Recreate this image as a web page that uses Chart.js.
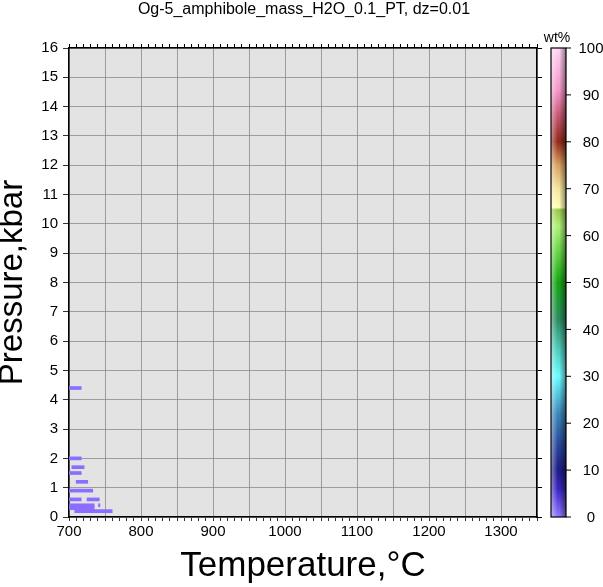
<!DOCTYPE html>
<html>
<head>
<meta charset="utf-8">
<script src="https://cdn.jsdelivr.net/npm/chart.js@4/dist/chart.umd.min.js"></script>
<style>
    html, body { margin: 0; padding: 0; background: #fff; }
    #wrap { width: 603px; height: 587px; }
</style>
</head>
<body>
<div id="wrap"><canvas id="ptChart" width="603" height="587"></canvas></div>
<script>
// Amphibole cells (pressure row, temperature span)
const pressures = [4.4, 2.0, 1.7, 1.5, 1.2, 0.9, 0.6, 0.6, 0.4, 0.4, 0.3, 0.2];
const tStart    = [700, 700, 704, 700, 710, 700, 700, 725, 700, 741, 700, 708];
const tEnd      = [717, 717, 721, 717, 726, 733, 717, 742, 735, 743, 735, 760];

const tempTicks = [700, 800, 900, 1000, 1100, 1200, 1300];
const colorbarTicks = [0, 10, 20, 30, 40, 50, 60, 70, 80, 90, 100];

const FONT = '"Liberation Sans", Arial, Helvetica, sans-serif';

// Colorbar palette (value 0..100)
const paletteStops = [
    [0.00, '#8f78ff'],
    [0.06, '#3a24c0'],
    [0.10, '#1c1c84'],
    [0.16, '#2a4c9c'],
    [0.22, '#3a86b8'],
    [0.30, '#6cfcff'],
    [0.36, '#4cc8b8'],
    [0.42, '#2a8c60'],
    [0.50, '#14a414'],
    [0.56, '#60d040'],
    [0.62, '#b0f078'],
    [0.655, '#98c848'],
    [0.66, '#ffffb8'],
    [0.70, '#f4e49c'],
    [0.75, '#d8a060'],
    [0.80, '#902818'],
    [0.86, '#c85a78'],
    [0.91, '#f496c8'],
    [1.00, '#ffd4f4']
];

const cells = pressures.map((p, i) => ({ y: p, x: [tStart[i], tEnd[i]] }));

const decorPlugin = {
    id: 'decor',
    beforeDraw(chart) {
        const { ctx, chartArea: a } = chart;
        ctx.save();
        ctx.fillStyle = '#e3e3e3';
        ctx.fillRect(a.left, a.top, a.right - a.left, a.bottom - a.top);
        ctx.restore();
    },
    afterDraw(chart) {
        const { ctx, chartArea: a } = chart;
        ctx.save();
        // title
        ctx.fillStyle = '#000';
        ctx.font = '16px ' + FONT;
        ctx.textAlign = 'center';
        ctx.textBaseline = 'middle';
        ctx.fillText('Og-5_amphibole_mass_H2O_0.1_PT, dz=0.01', 304, 10);

        // colorbar
        const cx0 = 551, cx1 = 566;
        const g = ctx.createLinearGradient(0, a.bottom, 0, a.top);
        paletteStops.forEach(s => g.addColorStop(s[0], s[1]));
        ctx.fillStyle = g;
        ctx.fillRect(cx0, a.top, cx1 - cx0, a.bottom - a.top);
        const h = ctx.createLinearGradient(cx0, 0, cx1, 0);
        h.addColorStop(0, 'rgba(255,255,255,0.45)');
        h.addColorStop(0.45, 'rgba(255,255,255,0)');
        h.addColorStop(0.55, 'rgba(0,0,0,0)');
        h.addColorStop(1, 'rgba(0,0,0,0.45)');
        ctx.fillStyle = h;
        ctx.fillRect(cx0, a.top, cx1 - cx0, a.bottom - a.top);
        ctx.strokeStyle = '#000';
        ctx.lineWidth = 1.2;
        ctx.strokeRect(cx0, a.top, cx1 - cx0, a.bottom - a.top);

        ctx.fillStyle = '#000';
        ctx.font = '15px ' + FONT;
        ctx.lineWidth = 1;
        colorbarTicks.forEach(v => {
            const y = a.bottom - v / 100 * (a.bottom - a.top);
            ctx.beginPath();
            ctx.moveTo(cx1, y);
            ctx.lineTo(cx1 + 5, y);
            ctx.stroke();
            ctx.fillText(String(v), 591, y + 1);
        });
        ctx.font = '14px ' + FONT;
        ctx.fillText('wt%', 557, 38);
        ctx.restore();
    }
};

const ctx = document.getElementById('ptChart').getContext('2d');
const ptChart = new Chart(ctx, {
    type: 'bar',
    data: {
        datasets: [{
            label: 'amphibole',
            data: cells,
            backgroundColor: 'rgb(139, 110, 255)',
            borderWidth: 0,
            barThickness: 3
        }]
    },
    options: {
        indexAxis: 'y',
        responsive: false,
        animation: false,
        layout: { padding: { top: 48, right: 66, left: 0, bottom: 0 } },
        plugins: {
            legend: { display: false },
            tooltip: { enabled: false }
        },
        scales: {
            x: {
                type: 'linear',
                position: 'bottom',
                min: 700,
                max: 1350,
                afterFit: s => { s.height = 70; },
                afterBuildTicks: s => {
                    const t = [];
                    for (let v = 700; v <= 1350; v += 10) t.push({ value: v });
                    s.ticks = t;
                },
                ticks: {
                    autoSkip: false,
                    maxRotation: 0,
                    padding: 2,
                    color: '#000',
                    font: { family: FONT, size: 15 },
                    callback: v => tempTicks.includes(v) ? String(v) : ''
                },
                grid: {
                    color: c => (c.tick && c.tick.value % 50 === 0) ? '#8a8a8a' : 'rgba(0,0,0,0)',
                    lineWidth: 0.8,
                    tickColor: '#000',
                    tickLength: 4
                },
                border: { color: '#000', width: 1.5 },
                title: {
                    display: true,
                    text: 'Temperature,°C',
                    color: '#000',
                    font: { family: FONT, size: 35, lineHeight: 1.2 },
                    padding: 0
                }
            },
            x2: {
                type: 'linear',
                axis: 'x',
                position: 'top',
                min: 700,
                max: 1350,
                afterFit: s => { s.height = 0; },
                afterBuildTicks: s => {
                    const t = [];
                    for (let v = 700; v <= 1350; v += 10) t.push({ value: v });
                    s.ticks = t;
                },
                ticks: { display: false, autoSkip: false },
                grid: { drawOnChartArea: false, tickColor: '#000', tickLength: 4 },
                border: { color: '#000', width: 1.5 }
            },
            y: {
                type: 'linear',
                position: 'left',
                min: 0,
                max: 16,
                offset: false,
                afterFit: s => { s.width = 69; },
                ticks: {
                    stepSize: 1,
                    autoSkip: false,
                    padding: 5,
                    color: '#000',
                    font: { family: FONT, size: 15 }
                },
                grid: {
                    offset: false,
                    color: '#8a8a8a',
                    lineWidth: 0.8,
                    tickColor: '#000',
                    tickLength: 6
                },
                border: { color: '#000', width: 1.5 },
                title: {
                    display: true,
                    text: 'Pressure,kbar',
                    color: '#000',
                    font: { family: FONT, size: 33, lineHeight: 0.8 },
                    padding: 0
                }
            },
            y2: {
                type: 'linear',
                axis: 'y',
                position: 'right',
                min: 0,
                max: 16,
                offset: false,
                afterFit: s => { s.width = 0; },
                ticks: { display: false, stepSize: 1, autoSkip: false },
                grid: { offset: false, drawOnChartArea: false, tickColor: '#000', tickLength: 5 },
                border: { color: '#000', width: 1.5 }
            }
        }
    },
    plugins: [decorPlugin]
});
</script>
</body>
</html>
